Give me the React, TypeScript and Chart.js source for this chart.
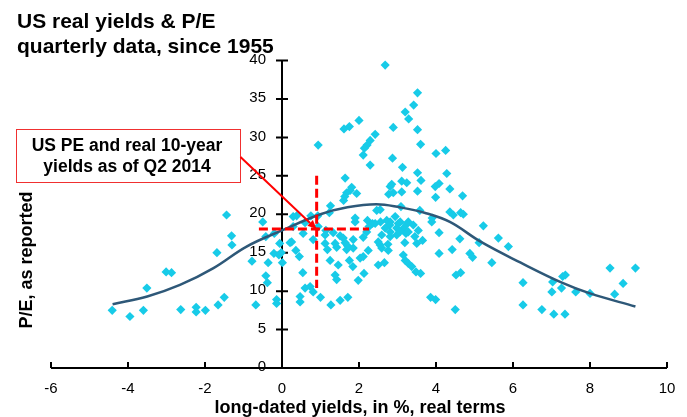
import React, { useEffect, useRef } from "react";
import { Chart, registerables } from "chart.js";

Chart.register(...registerables);

// Scatter: real long-dated yield (%) vs P/E, quarterly since 1955
const realYield = [
  -4.41, -3.95, -3.6, -3.51, -3.01, -2.87, -2.63, -2.23, -2.23, -1.99, -1.66, -1.5, -1.69, -1.44, -1.31, -1.3,
  -0.78, -0.68, -0.5, -0.42, -0.2, -0.36, -0.42, -0.38, -0.21, -0.08, -0.02, -0.06, 0.01, -0.14, -0.14,
  0.21, 0.29, 0.94, 0.38, 0.75, 0.93, 0.29, 0.55, 0.94, 0.25, 0.81, 0.36, 0.45, 0.54, 0.6, 0.73, 0.81, 0.47, 1.0, 0.47, 0.6,
  1.61, 1.75, 2.0, 1.64, 1.81, 1.77, 1.68, 1.94, 1.63, 1.6, 1.26, 1.23, 1.9, 1.9, 1.14, 1.12, 1.33, 1.51, 1.59, 1.85,
  1.12, 1.18, 1.42, 1.64, 1.68, 1.85, 1.25, 1.46, 1.75, 1.84, 1.38, 1.42, 1.98, 1.27, 1.51, 1.71, 2.13, 1.38, 1.7,
  2.68, 2.89, 2.42, 2.29, 2.21, 2.14, 2.11, 2.87, 2.29, 2.81, 2.85, 2.77, 2.89, 2.46, 2.55, 2.22, 2.35, 2.11,
  2.24, 2.55, 2.59, 2.76, 2.03, 2.11, 2.5, 2.66, 2.26, 2.42, 2.56, 2.68, 2.81, 2.94, 3.07, 3.16, 3.24, 3.22,
  3.19, 3.41, 3.28, 2.5, 2.75, 2.59, 2.81, 2.98, 3.45, 3.5, 3.65, 2.2, 2.72, 3.02, 3.28, 2.8, 2.98, 3.06, 2.81,
  3.52, 3.42, 3.2, 3.29, 3.52, 3.6, 3.13, 3.52, 3.61, 3.11, 3.24, 3.98, 3.11, 3.09, 3.58, 3.9, 3.89, 3.52, 3.54,
  3.15, 3.2, 3.28, 3.37, 3.48, 3.6, 3.86, 3.99,
  4.0, 4.25, 4.28, 4.08, 4.36, 3.99, 4.36, 4.08, 4.08, 4.42, 4.69, 4.64, 4.71, 4.45, 4.62, 4.88, 4.95, 4.52, 4.64, 4.5,
  5.23, 5.62, 5.12, 5.45, 5.88, 6.26, 6.26, 6.75, 7.06, 7.35, 7.01, 7.03, 7.26, 7.29, 7.36, 7.63, 8.0, 8.52, 8.64, 8.86, 9.18,
];
const peRatio = [
  7.5, 6.7, 7.5, 10.4, 12.5, 12.4, 7.6, 7.9, 7.3, 7.5, 8.2, 9.2, 15.0, 19.9, 17.2, 16.0,
  13.9, 8.2, 19.0, 17.1, 17.5, 13.7, 12.0, 11.1, 14.9, 14.7, 15.0, 16.2, 13.7, 8.9, 8.4,
  16.3, 19.7, 29.0, 19.8, 19.8, 19.8, 18.4, 17.5, 18.4, 16.4, 16.7, 15.3, 14.5, 12.4, 10.4, 10.6, 9.9, 9.3, 9.2, 8.6, 18.9,
  31.1, 31.4, 32.2, 24.7, 23.5, 23.1, 22.8, 22.7, 22.3, 21.8, 21.1, 20.2, 19.5, 19.0, 17.9, 17.3, 17.6, 17.2, 16.9, 16.7,
  16.2, 15.4, 15.7, 16.3, 15.4, 15.6, 14.0, 13.4, 14.0, 13.2, 12.1, 11.5, 11.4, 8.2, 8.8, 9.2, 12.3, 16.2, 15.9,
  39.4, 31.3, 30.4, 29.6, 29.0, 28.6, 27.7, 27.3, 26.4, 23.6, 23.9, 22.6, 22.8, 20.5, 20.6, 19.2, 18.8, 17.0,
  15.3, 16.0, 15.6, 15.3, 14.3, 14.5, 13.4, 13.7, 18.4, 18.8, 19.0, 18.2, 19.0, 19.7, 19.0, 18.2, 18.7, 17.5,
  16.3, 18.6, 17.7, 16.4, 16.1, 17.3, 17.1, 17.3, 17.1, 16.2, 16.6, 17.7, 19.2, 18.8, 19.0, 18.6, 18.2, 17.7, 17.7,
  35.8, 34.2, 33.3, 32.4, 31.0, 29.1, 26.1, 25.4, 24.4, 24.3, 24.1, 23.6, 22.9, 21.0, 20.5, 19.5, 19.0, 23.0, 17.9,
  14.7, 14.0, 13.6, 13.2, 12.5, 12.3, 9.2, 8.9,
  27.9, 28.3, 25.3, 24.0, 23.3, 22.2, 20.3, 17.6, 14.9, 15.4, 22.4, 20.2, 20.0, 19.9, 16.8, 14.9, 14.4, 12.1, 12.4, 7.6,
  18.5, 16.9, 16.3, 13.7, 15.8, 11.1, 8.2, 7.6, 7.0, 7.0, 9.9, 11.2, 10.4, 11.9, 12.1, 9.9, 9.7, 13.0, 9.6, 11.0, 13.0,
];

// Fitted curve
const fitX = [-4.4, -3.5, -2.65, -1.78, -0.92, 0, 1.0, 1.7, 2.45, 3.06, 3.7, 4.36, 5.17, 6.2, 7.27, 8.0, 9.18];
const fitY = [8.3, 9.3, 10.8, 13.0, 15.8, 17.9, 20.0, 20.9, 21.3, 20.9, 20.2, 19.0, 16.4, 13.7, 11.1, 9.7, 8.0];

// Q2 2014 marker (real yield, P/E) and crosshair extents
const currentPoint = [0.9, 18.07];
const crossV = [25, 10.4];
const crossH = [-0.6, 2.26];

const xTicks = [-6, -4, -2, 0, 2, 4, 6, 8, 10];
const yTicks = [0, 5, 10, 15, 20, 25, 30, 35, 40];

const titleLines = ["US real yields & P/E", "quarterly data, since 1955"];
const noteLines = ["US PE and real 10-year", "yields as of Q2 2014"];
const xTitle = "long-dated yields, in %, real terms";
const yTitle = "P/E, as reported";

const FONT = "'Liberation Sans', Arial, sans-serif";

const drawPlugin = {
  id: "customAxes",
  beforeDatasetsDraw(chart: any) {
    const { ctx } = chart;
    const x = chart.scales.x;
    const y = chart.scales.y;
    const x0 = x.getPixelForValue(0);
    const y0 = y.getPixelForValue(0);
    ctx.save();
    ctx.strokeStyle = "#000";
    ctx.lineWidth = 2;
    ctx.beginPath();
    ctx.moveTo(x0, y.getPixelForValue(yTicks[yTicks.length - 1]));
    ctx.lineTo(x0, y0);
    ctx.moveTo(x.getPixelForValue(xTicks[0]), y0);
    ctx.lineTo(x.getPixelForValue(xTicks[xTicks.length - 1]), y0);
    for (const t of yTicks) {
      const py = y.getPixelForValue(t);
      ctx.moveTo(x0 - 6, py);
      ctx.lineTo(x0 + 6, py);
    }
    for (const t of xTicks) {
      const px = x.getPixelForValue(t);
      ctx.moveTo(px, y0);
      ctx.lineTo(px, y0 - 6);
    }
    ctx.stroke();
    ctx.restore();
  },
  afterDraw(chart: any) {
    const { ctx } = chart;
    const x = chart.scales.x;
    const y = chart.scales.y;
    const x0 = x.getPixelForValue(0);
    const y0 = y.getPixelForValue(0);
    ctx.save();
    ctx.fillStyle = "#000";
    // tick labels
    ctx.font = `15px ${FONT}`;
    ctx.textAlign = "right";
    ctx.textBaseline = "middle";
    for (const t of yTicks) {
      ctx.fillText(String(t), x0 - 16, y.getPixelForValue(t) - 1);
    }
    ctx.textAlign = "center";
    for (const t of xTicks) {
      ctx.fillText(String(t), x.getPixelForValue(t), y0 + 21);
    }
    // axis titles
    ctx.font = `bold 18px ${FONT}`;
    ctx.textBaseline = "alphabetic";
    ctx.fillText(xTitle, 360, 413);
    ctx.save();
    ctx.translate(32, 260);
    ctx.rotate(-Math.PI / 2);
    ctx.fillText(yTitle, 0, 0);
    ctx.restore();
    // chart title
    ctx.textAlign = "left";
    ctx.font = `bold 21px ${FONT}`;
    ctx.fillText(titleLines[0], 17, 28);
    ctx.fillText(titleLines[1], 17, 53);
    // annotation box
    const bx = 16.5, by = 129.5, bw = 224, bh = 53;
    ctx.fillStyle = "#fff";
    ctx.fillRect(bx, by, bw, bh);
    ctx.strokeStyle = "#f03030";
    ctx.lineWidth = 1;
    ctx.strokeRect(bx, by, bw, bh);
    ctx.fillStyle = "#000";
    ctx.textAlign = "center";
    ctx.font = `bold 17.5px ${FONT}`;
    ctx.fillText(noteLines[0], 127, 151);
    ctx.fillText(noteLines[1], 127, 172);
    // arrow
    const sx = bx + bw, sy = 157;
    const ex = x.getPixelForValue(currentPoint[0]);
    const ey = y.getPixelForValue(currentPoint[1]);
    const ang = Math.atan2(ey - sy, ex - sx);
    const hl = 9;
    ctx.strokeStyle = "#ff0000";
    ctx.fillStyle = "#ff0000";
    ctx.lineWidth = 2;
    ctx.beginPath();
    ctx.moveTo(sx, sy);
    ctx.lineTo(ex - hl * Math.cos(ang), ey - hl * Math.sin(ang));
    ctx.stroke();
    ctx.beginPath();
    ctx.moveTo(ex, ey);
    ctx.lineTo(ex - hl * Math.cos(ang) + 4 * Math.sin(ang), ey - hl * Math.sin(ang) - 4 * Math.cos(ang));
    ctx.lineTo(ex - hl * Math.cos(ang) - 4 * Math.sin(ang), ey - hl * Math.sin(ang) + 4 * Math.cos(ang));
    ctx.closePath();
    ctx.fill();
    ctx.restore();
  },
};

export default function App() {
  const ref = useRef<HTMLCanvasElement>(null);
  useEffect(() => {
    if (!ref.current) return;
    const scatter = realYield.map((v, i) => ({ x: v, y: peRatio[i] }));
    const fit = fitX.map((v, i) => ({ x: v, y: fitY[i] }));
    const red = "#ff0000";
    const chart = new Chart(ref.current, {
      type: "scatter",
      data: {
        datasets: [
          {
            type: "line",
            data: [
              { x: currentPoint[0], y: crossV[0] },
              { x: currentPoint[0], y: crossV[1] },
            ],
            borderColor: red,
            borderWidth: 3,
            borderDash: [9, 4],
            pointRadius: 0,
            fill: false,
          } as any,
          {
            type: "line",
            data: [
              { x: crossH[0], y: currentPoint[1] },
              { x: crossH[1], y: currentPoint[1] },
            ],
            borderColor: red,
            borderWidth: 3,
            borderDash: [9, 4],
            pointRadius: 0,
            fill: false,
          } as any,
          {
            type: "line",
            data: fit,
            borderColor: "#2e5878",
            borderWidth: 2.5,
            pointRadius: 0,
            tension: 0.4,
            fill: false,
          } as any,
          {
            data: scatter,
            pointStyle: "rectRot",
            pointRadius: 4.6,
            pointBackgroundColor: "#17cbe8",
            pointBorderWidth: 0,
            borderColor: "#17cbe8",
          } as any,
        ],
      },
      options: {
        responsive: false,
        animation: false,
        devicePixelRatio: 1,
        clip: false as any,
        layout: { padding: { left: 51, right: 20, top: 60.5, bottom: 49 } },
        plugins: { legend: { display: false }, tooltip: { enabled: false }, title: { display: false } },
        scales: {
          x: { type: "linear", min: -6, max: 10, display: false },
          y: { type: "linear", min: 0, max: 40, display: false },
        },
        events: [],
      },
      plugins: [drawPlugin],
    });
    return () => chart.destroy();
  }, []);
  return (
    <div style={{ position: "fixed", left: 0, top: 0, width: 687, height: 417, background: "#fff" }}>
      <canvas ref={ref} width={687} height={417} />
    </div>
  );
}
